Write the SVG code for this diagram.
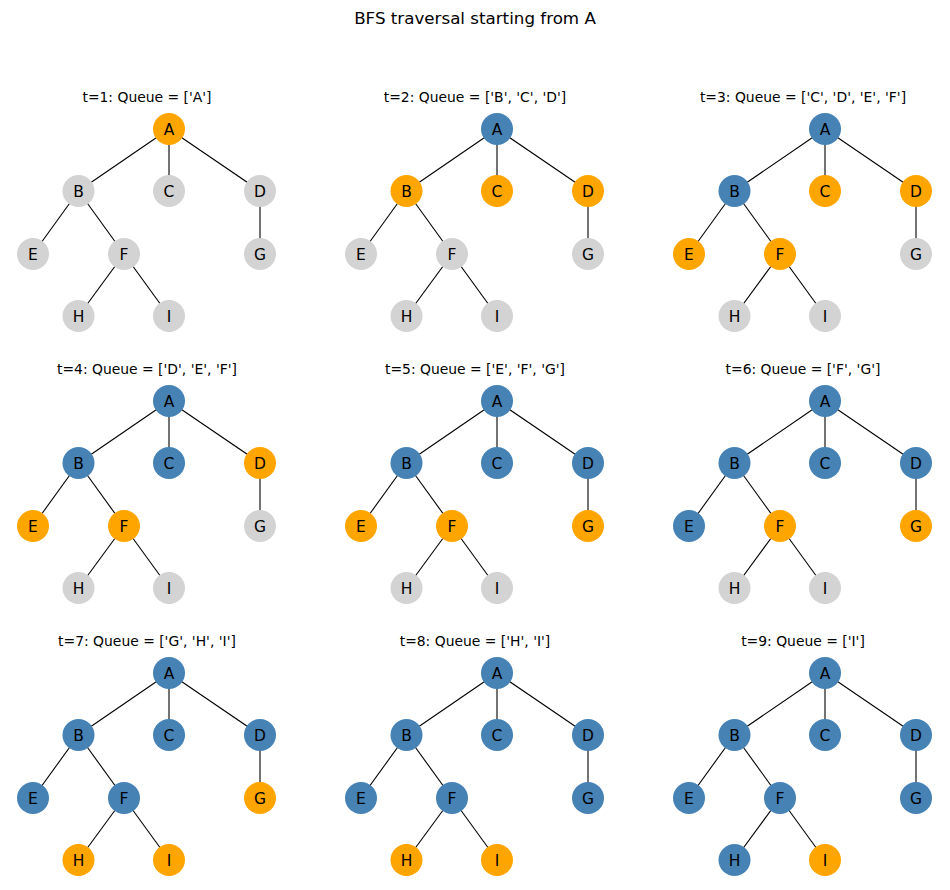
<svg xmlns="http://www.w3.org/2000/svg" xmlns:xlink="http://www.w3.org/1999/xlink" width="950" height="890" viewBox="0 0 950 890">
<style>
text{font-family:"DejaVu Sans","Liberation Sans",sans-serif;fill:#000;text-anchor:middle}
.mt{font-size:16.7px}
.st{font-size:13.9px}
.n text{font-size:15.5px}
.o circle{fill:#FFA500}
.b circle{fill:#4682B4}
.g circle{fill:#D3D3D3}
.edges line{stroke:#000;stroke-width:1.1}
</style>
<defs>
<g id="tree-edges" class="edges">
<line x1="169" y1="129" x2="78.5" y2="191"/>
<line x1="169" y1="129" x2="169" y2="191"/>
<line x1="169" y1="129" x2="260" y2="191"/>
<line x1="78.5" y1="191" x2="33" y2="254"/>
<line x1="78.5" y1="191" x2="124" y2="254"/>
<line x1="260" y1="191" x2="260" y2="254"/>
<line x1="124" y1="254" x2="78.5" y2="316"/>
<line x1="124" y1="254" x2="169" y2="316"/>
</g>
</defs>
<rect width="950" height="890" fill="#fff"/>
<text class="mt" x="475" y="24">BFS traversal starting from A</text>

<g id="panel1">
<text class="st" x="147" y="101.5">t=1: Queue = ['A']</text>
<g id="p1-edges"><use xlink:href="#tree-edges"/></g>
<g id="p1-A" class="n o"><circle cx="169" cy="129" r="16"/><text x="169" y="134.6">A</text></g>
<g id="p1-B" class="n g"><circle cx="78.5" cy="191" r="16"/><text x="78.5" y="196.6">B</text></g>
<g id="p1-C" class="n g"><circle cx="169" cy="191" r="16"/><text x="169" y="196.6">C</text></g>
<g id="p1-D" class="n g"><circle cx="260" cy="191" r="16"/><text x="260" y="196.6">D</text></g>
<g id="p1-E" class="n g"><circle cx="33" cy="254" r="16"/><text x="33" y="259.6">E</text></g>
<g id="p1-F" class="n g"><circle cx="124" cy="254" r="16"/><text x="124" y="259.6">F</text></g>
<g id="p1-G" class="n g"><circle cx="260" cy="254" r="16"/><text x="260" y="259.6">G</text></g>
<g id="p1-H" class="n g"><circle cx="78.5" cy="316" r="16"/><text x="78.5" y="321.6">H</text></g>
<g id="p1-I" class="n g"><circle cx="169" cy="316" r="16"/><text x="169" y="321.6">I</text></g>
</g>

<g id="panel2" transform="translate(328,0)">
<text class="st" x="147" y="101.5">t=2: Queue = ['B', 'C', 'D']</text>
<g id="p2-edges"><use xlink:href="#tree-edges"/></g>
<g id="p2-A" class="n b"><circle cx="169" cy="129" r="16"/><text x="169" y="134.6">A</text></g>
<g id="p2-B" class="n o"><circle cx="78.5" cy="191" r="16"/><text x="78.5" y="196.6">B</text></g>
<g id="p2-C" class="n o"><circle cx="169" cy="191" r="16"/><text x="169" y="196.6">C</text></g>
<g id="p2-D" class="n o"><circle cx="260" cy="191" r="16"/><text x="260" y="196.6">D</text></g>
<g id="p2-E" class="n g"><circle cx="33" cy="254" r="16"/><text x="33" y="259.6">E</text></g>
<g id="p2-F" class="n g"><circle cx="124" cy="254" r="16"/><text x="124" y="259.6">F</text></g>
<g id="p2-G" class="n g"><circle cx="260" cy="254" r="16"/><text x="260" y="259.6">G</text></g>
<g id="p2-H" class="n g"><circle cx="78.5" cy="316" r="16"/><text x="78.5" y="321.6">H</text></g>
<g id="p2-I" class="n g"><circle cx="169" cy="316" r="16"/><text x="169" y="321.6">I</text></g>
</g>

<g id="panel3" transform="translate(656,0)">
<text class="st" x="147" y="101.5">t=3: Queue = ['C', 'D', 'E', 'F']</text>
<g id="p3-edges"><use xlink:href="#tree-edges"/></g>
<g id="p3-A" class="n b"><circle cx="169" cy="129" r="16"/><text x="169" y="134.6">A</text></g>
<g id="p3-B" class="n b"><circle cx="78.5" cy="191" r="16"/><text x="78.5" y="196.6">B</text></g>
<g id="p3-C" class="n o"><circle cx="169" cy="191" r="16"/><text x="169" y="196.6">C</text></g>
<g id="p3-D" class="n o"><circle cx="260" cy="191" r="16"/><text x="260" y="196.6">D</text></g>
<g id="p3-E" class="n o"><circle cx="33" cy="254" r="16"/><text x="33" y="259.6">E</text></g>
<g id="p3-F" class="n o"><circle cx="124" cy="254" r="16"/><text x="124" y="259.6">F</text></g>
<g id="p3-G" class="n g"><circle cx="260" cy="254" r="16"/><text x="260" y="259.6">G</text></g>
<g id="p3-H" class="n g"><circle cx="78.5" cy="316" r="16"/><text x="78.5" y="321.6">H</text></g>
<g id="p3-I" class="n g"><circle cx="169" cy="316" r="16"/><text x="169" y="321.6">I</text></g>
</g>

<g id="panel4" transform="translate(0,272)">
<text class="st" x="147" y="101.5">t=4: Queue = ['D', 'E', 'F']</text>
<g id="p4-edges"><use xlink:href="#tree-edges"/></g>
<g id="p4-A" class="n b"><circle cx="169" cy="129" r="16"/><text x="169" y="134.6">A</text></g>
<g id="p4-B" class="n b"><circle cx="78.5" cy="191" r="16"/><text x="78.5" y="196.6">B</text></g>
<g id="p4-C" class="n b"><circle cx="169" cy="191" r="16"/><text x="169" y="196.6">C</text></g>
<g id="p4-D" class="n o"><circle cx="260" cy="191" r="16"/><text x="260" y="196.6">D</text></g>
<g id="p4-E" class="n o"><circle cx="33" cy="254" r="16"/><text x="33" y="259.6">E</text></g>
<g id="p4-F" class="n o"><circle cx="124" cy="254" r="16"/><text x="124" y="259.6">F</text></g>
<g id="p4-G" class="n g"><circle cx="260" cy="254" r="16"/><text x="260" y="259.6">G</text></g>
<g id="p4-H" class="n g"><circle cx="78.5" cy="316" r="16"/><text x="78.5" y="321.6">H</text></g>
<g id="p4-I" class="n g"><circle cx="169" cy="316" r="16"/><text x="169" y="321.6">I</text></g>
</g>

<g id="panel5" transform="translate(328,272)">
<text class="st" x="147" y="101.5">t=5: Queue = ['E', 'F', 'G']</text>
<g id="p5-edges"><use xlink:href="#tree-edges"/></g>
<g id="p5-A" class="n b"><circle cx="169" cy="129" r="16"/><text x="169" y="134.6">A</text></g>
<g id="p5-B" class="n b"><circle cx="78.5" cy="191" r="16"/><text x="78.5" y="196.6">B</text></g>
<g id="p5-C" class="n b"><circle cx="169" cy="191" r="16"/><text x="169" y="196.6">C</text></g>
<g id="p5-D" class="n b"><circle cx="260" cy="191" r="16"/><text x="260" y="196.6">D</text></g>
<g id="p5-E" class="n o"><circle cx="33" cy="254" r="16"/><text x="33" y="259.6">E</text></g>
<g id="p5-F" class="n o"><circle cx="124" cy="254" r="16"/><text x="124" y="259.6">F</text></g>
<g id="p5-G" class="n o"><circle cx="260" cy="254" r="16"/><text x="260" y="259.6">G</text></g>
<g id="p5-H" class="n g"><circle cx="78.5" cy="316" r="16"/><text x="78.5" y="321.6">H</text></g>
<g id="p5-I" class="n g"><circle cx="169" cy="316" r="16"/><text x="169" y="321.6">I</text></g>
</g>

<g id="panel6" transform="translate(656,272)">
<text class="st" x="147" y="101.5">t=6: Queue = ['F', 'G']</text>
<g id="p6-edges"><use xlink:href="#tree-edges"/></g>
<g id="p6-A" class="n b"><circle cx="169" cy="129" r="16"/><text x="169" y="134.6">A</text></g>
<g id="p6-B" class="n b"><circle cx="78.5" cy="191" r="16"/><text x="78.5" y="196.6">B</text></g>
<g id="p6-C" class="n b"><circle cx="169" cy="191" r="16"/><text x="169" y="196.6">C</text></g>
<g id="p6-D" class="n b"><circle cx="260" cy="191" r="16"/><text x="260" y="196.6">D</text></g>
<g id="p6-E" class="n b"><circle cx="33" cy="254" r="16"/><text x="33" y="259.6">E</text></g>
<g id="p6-F" class="n o"><circle cx="124" cy="254" r="16"/><text x="124" y="259.6">F</text></g>
<g id="p6-G" class="n o"><circle cx="260" cy="254" r="16"/><text x="260" y="259.6">G</text></g>
<g id="p6-H" class="n g"><circle cx="78.5" cy="316" r="16"/><text x="78.5" y="321.6">H</text></g>
<g id="p6-I" class="n g"><circle cx="169" cy="316" r="16"/><text x="169" y="321.6">I</text></g>
</g>

<g id="panel7" transform="translate(0,544)">
<text class="st" x="147" y="101.5">t=7: Queue = ['G', 'H', 'I']</text>
<g id="p7-edges"><use xlink:href="#tree-edges"/></g>
<g id="p7-A" class="n b"><circle cx="169" cy="129" r="16"/><text x="169" y="134.6">A</text></g>
<g id="p7-B" class="n b"><circle cx="78.5" cy="191" r="16"/><text x="78.5" y="196.6">B</text></g>
<g id="p7-C" class="n b"><circle cx="169" cy="191" r="16"/><text x="169" y="196.6">C</text></g>
<g id="p7-D" class="n b"><circle cx="260" cy="191" r="16"/><text x="260" y="196.6">D</text></g>
<g id="p7-E" class="n b"><circle cx="33" cy="254" r="16"/><text x="33" y="259.6">E</text></g>
<g id="p7-F" class="n b"><circle cx="124" cy="254" r="16"/><text x="124" y="259.6">F</text></g>
<g id="p7-G" class="n o"><circle cx="260" cy="254" r="16"/><text x="260" y="259.6">G</text></g>
<g id="p7-H" class="n o"><circle cx="78.5" cy="316" r="16"/><text x="78.5" y="321.6">H</text></g>
<g id="p7-I" class="n o"><circle cx="169" cy="316" r="16"/><text x="169" y="321.6">I</text></g>
</g>

<g id="panel8" transform="translate(328,544)">
<text class="st" x="147" y="101.5">t=8: Queue = ['H', 'I']</text>
<g id="p8-edges"><use xlink:href="#tree-edges"/></g>
<g id="p8-A" class="n b"><circle cx="169" cy="129" r="16"/><text x="169" y="134.6">A</text></g>
<g id="p8-B" class="n b"><circle cx="78.5" cy="191" r="16"/><text x="78.5" y="196.6">B</text></g>
<g id="p8-C" class="n b"><circle cx="169" cy="191" r="16"/><text x="169" y="196.6">C</text></g>
<g id="p8-D" class="n b"><circle cx="260" cy="191" r="16"/><text x="260" y="196.6">D</text></g>
<g id="p8-E" class="n b"><circle cx="33" cy="254" r="16"/><text x="33" y="259.6">E</text></g>
<g id="p8-F" class="n b"><circle cx="124" cy="254" r="16"/><text x="124" y="259.6">F</text></g>
<g id="p8-G" class="n b"><circle cx="260" cy="254" r="16"/><text x="260" y="259.6">G</text></g>
<g id="p8-H" class="n o"><circle cx="78.5" cy="316" r="16"/><text x="78.5" y="321.6">H</text></g>
<g id="p8-I" class="n o"><circle cx="169" cy="316" r="16"/><text x="169" y="321.6">I</text></g>
</g>

<g id="panel9" transform="translate(656,544)">
<text class="st" x="147" y="101.5">t=9: Queue = ['I']</text>
<g id="p9-edges"><use xlink:href="#tree-edges"/></g>
<g id="p9-A" class="n b"><circle cx="169" cy="129" r="16"/><text x="169" y="134.6">A</text></g>
<g id="p9-B" class="n b"><circle cx="78.5" cy="191" r="16"/><text x="78.5" y="196.6">B</text></g>
<g id="p9-C" class="n b"><circle cx="169" cy="191" r="16"/><text x="169" y="196.6">C</text></g>
<g id="p9-D" class="n b"><circle cx="260" cy="191" r="16"/><text x="260" y="196.6">D</text></g>
<g id="p9-E" class="n b"><circle cx="33" cy="254" r="16"/><text x="33" y="259.6">E</text></g>
<g id="p9-F" class="n b"><circle cx="124" cy="254" r="16"/><text x="124" y="259.6">F</text></g>
<g id="p9-G" class="n b"><circle cx="260" cy="254" r="16"/><text x="260" y="259.6">G</text></g>
<g id="p9-H" class="n b"><circle cx="78.5" cy="316" r="16"/><text x="78.5" y="321.6">H</text></g>
<g id="p9-I" class="n o"><circle cx="169" cy="316" r="16"/><text x="169" y="321.6">I</text></g>
</g>
</svg>
